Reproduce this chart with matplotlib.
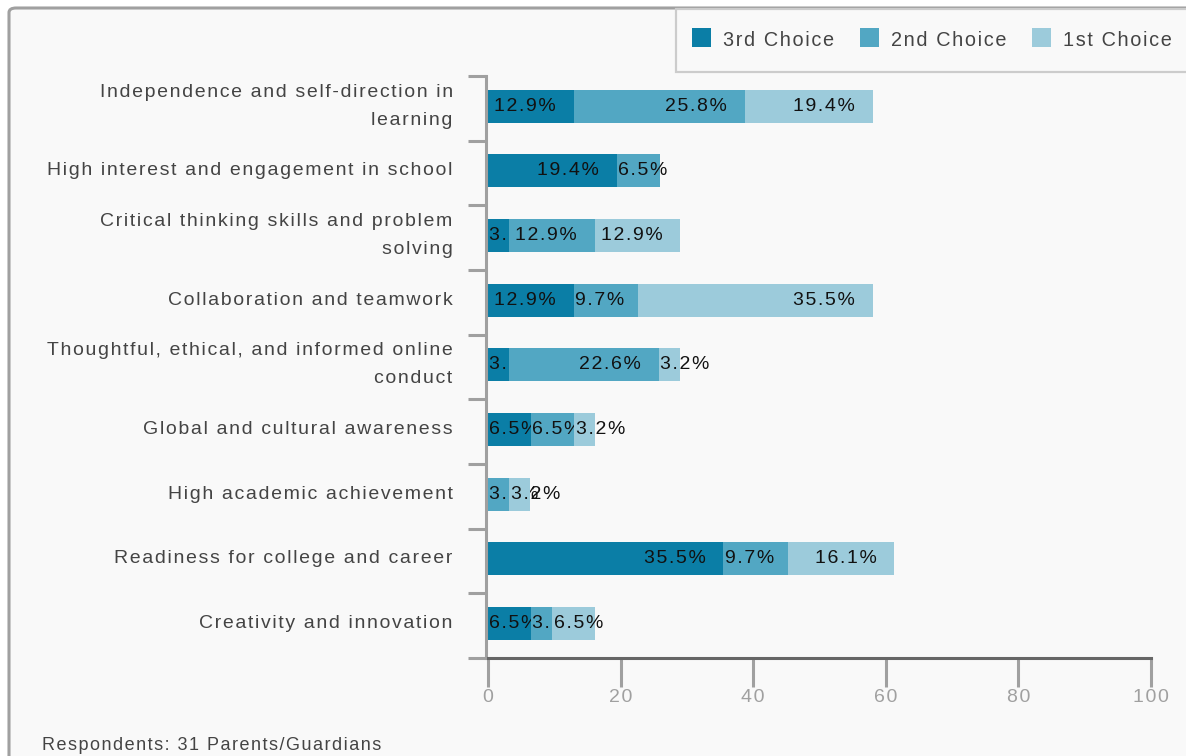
import matplotlib.pyplot as plt
import matplotlib as mpl
from matplotlib.patches import FancyBboxPatch, Rectangle
import numpy as np

# survey data: percent of respondents per ranking
categories = ['Independence and self-direction in\nlearning',
              'High interest and engagement in school',
              'Critical thinking skills and problem\nsolving',
              'Collaboration and teamwork',
              'Thoughtful, ethical, and informed online\nconduct',
              'Global and cultural awareness',
              'High academic achievement',
              'Readiness for college and career',
              'Creativity and innovation']
third = [12.9, 19.4, 3.2, 12.9, 3.2, 6.5, 0.0, 35.5, 6.5]
second = [25.8, 6.5, 12.9, 9.7, 22.6, 6.5, 3.2, 9.7, 3.2]
first = [19.4, 0.0, 12.9, 35.5, 3.2, 3.2, 3.2, 16.1, 6.5]
series_names = ['3rd Choice', '2nd Choice', '1st Choice']
colors = ['#0b7ea6', '#52a7c3', '#9ccbdb']
xticks = [0, 20, 40, 60, 80, 100]
footer = 'Respondents: 31 Parents/Guardians'

mpl.rcParams['font.family'] = ['Liberation Sans', 'DejaVu Sans']

HAIR = '\u200a'


def spaced(s):
    # loose letter spacing, one hair space between glyphs
    return '\n'.join(HAIR.join(line) for line in s.split('\n'))


W, H = 1186, 756
fig = plt.figure(figsize=(W / 100, H / 100), dpi=100)
fig.patch.set_facecolor('white')

def fx(px):
    return px / W

def fy(py):
    return 1 - py / H

# outer panel
panel = FancyBboxPatch((fx(9), fy(800)), fx(1300), 792 / H,
                       boxstyle='round,pad=0,rounding_size=0.006',
                       transform=fig.transFigure, facecolor='#f9f9f9',
                       edgecolor='#a0a0a0', linewidth=2.2, zorder=-10)
fig.patches.append(panel)

ax = fig.add_axes([fx(486), fy(658), fx(1151) - fx(486), (658 - 76) / H])
ax.set_facecolor('none')
ax.set_zorder(1)

n = len(categories)
y = np.arange(n)
ybar = y - 0.035   # bars sit a touch above the band centre
left = np.zeros(n)
px_per_unit = (1151 - 487) / 100.0
pad_units = 18 / px_per_unit

for k, vals in enumerate([third, second, first]):
    vals = np.array(vals)
    for i in range(n):
        v = vals[i]
        if v <= 0:
            continue
        ax.barh(ybar[i], v, left=left[i], height=0.51, color=colors[k],
                zorder=2 + 2 * k, linewidth=0)
        label = f'{v:.1f}%'
        # label fits inside segment -> right aligned, else start of segment
        approx_w = len(label) * 12.5 / px_per_unit
        if approx_w + pad_units < v:
            ax.text(left[i] + v - pad_units, ybar[i], spaced(label), ha='right',
                    va='center', fontsize=14, color='#111111', zorder=3 + 2 * k)
        else:
            ax.text(left[i] + 0.2, ybar[i], spaced(label), ha='left', va='center',
                    fontsize=14, color='#111111', zorder=3 + 2 * k)
    left = left + vals

ax.set_xlim(-0.3, 100)
ax.set_ylim(n - 0.5, -0.5)

for s in ['top', 'right']:
    ax.spines[s].set_visible(False)
ax.spines['left'].set_color('#a0a0a0')
ax.spines['left'].set_linewidth(2.2)
ax.spines['bottom'].set_color('#666666')
ax.spines['bottom'].set_linewidth(2.2)
ax.spines['bottom'].set_bounds(0, 100)

ax.set_xticks(xticks)
ax.set_xticklabels([spaced(str(t)) for t in xticks])
ax.tick_params(axis='x', direction='out', length=21, width=2.2, color='#a0a0a0',
               labelcolor='#a0a0a0', labelsize=14, pad=1)

ax.set_yticks(ybar)
ax.set_yticklabels([spaced(c) for c in categories], fontsize=14, color='#444444')
ax.tick_params(axis='y', which='major', length=0, pad=24)
ax.set_yticks(np.arange(n + 1) - 0.5, minor=True)
ax.tick_params(axis='y', which='minor', length=13, width=2.2, color='#a0a0a0')
for t in ax.get_yticklabels():
    t.set_linespacing(1.85)
    t.set_va('center')

# legend box at the top right
lbox = Rectangle((fx(676), fy(72)), fx(600), 63 / H, transform=fig.transFigure,
                 facecolor='#f9f9f9', edgecolor='#cccccc', linewidth=1.6, zorder=1)
fig.patches.append(lbox)
marker_x = [692, 860, 1032]
for name, c, mx in zip(series_names, colors, marker_x):
    fig.patches.append(Rectangle((fx(mx), fy(47)), fx(19), 19 / H,
                                 transform=fig.transFigure, facecolor=c,
                                 edgecolor='none', zorder=2))
    fig.text(fx(mx + 31), fy(40), spaced(name), ha='left', va='center',
             fontsize=14.3, color='#444444')

fig.text(fx(42), fy(745), spaced(footer), ha='left', va='center', fontsize=13,
         color='#444444')

fig.savefig('out.png', dpi=100)
